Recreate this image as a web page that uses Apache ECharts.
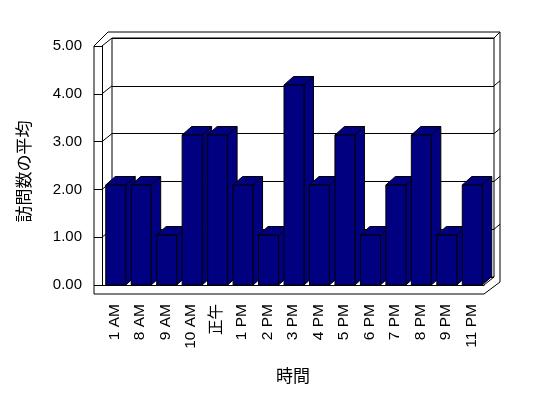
<!DOCTYPE html>
<html>
<head>
<meta charset="utf-8">
<script src="https://cdn.jsdelivr.net/npm/echarts@6/dist/echarts.min.js"></script>
<style>
  html, body { margin: 0; padding: 0; background: #fff; }
  #main { width: 548px; height: 398px; }
</style>
</head>
<body>
<div id="main"></div>
<script>
// 時間帯ごとの訪問数の平均
var hours = ['1 AM', '8 AM', '9 AM', '10 AM', '正午', '1 PM', '2 PM', '3 PM', '4 PM', '5 PM', '6 PM', '7 PM', '8 PM', '9 PM', '11 PM']
var visits = [2, 2, 1, 3, 3, 2, 1, 4, 2, 3, 1, 2, 3, 1, 2]
var yTicks = [0, 1, 2, 3, 4, 5]

var font = "'Liberation Sans', 'Noto Sans CJK JP', sans-serif"
var navy = '#000080'
// 奥行き (px)
var DX = 9.5
var DY = -8.5

var chart = echarts.init(document.getElementById('main'))

function drawFrame (params, api) {
  var cs = params.coordSys
  var x0 = cs.x
  var y0 = cs.y
  var R = cs.x + cs.width
  var y1 = cs.y + cs.height
  var line = { stroke: '#000', lineWidth: 1, fill: null }
  var children = [
    { type: 'polyline', shape: { points: [[x0 - 8, y1 + 9], [x0 - 8, y0], [x0 + 6, y0 - 14], [R + 16, y0 - 14], [R + 16, y1 - 3], [R, y1 + 9], [x0 - 8, y1 + 9]] }, style: line },
    { type: 'line', shape: { x1: x0, y1: y0, x2: x0 + 10, y2: y0 - 8 }, style: line },
    { type: 'line', shape: { x1: R + 10, y1: y0 - 8, x2: R + 16, y2: y0 - 14 }, style: line },
    { type: 'line', shape: { x1: R, y1: y1, x2: R + 10, y2: y1 - 8 }, style: line }
  ]
  // 左右の壁の目盛り線
  for (var i = 1; i < yTicks.length - 1; i++) {
    var yy = api.coord([0, yTicks[i]])[1]
    children.push({ type: 'line', shape: { x1: x0, y1: yy, x2: x0 + 10, y2: yy - 8 }, style: line })
    children.push({ type: 'line', shape: { x1: R + 10, y1: yy - 8, x2: R + 16, y2: yy - 13 }, style: line })
  }
  return { type: 'group', children: children }
}

function drawBar (params, api) {
  var idx = api.value(0)
  var v = api.value(1)
  var p0 = api.coord([idx, 0])
  var p1 = api.coord([idx, v])
  var w = api.size([1, 0])[0] * 0.785
  var x = p0[0] - w / 2 + 1
  var top = p1[1]
  var bottom = p0[1]
  var st = { fill: navy, stroke: '#000', lineWidth: 1 }
  return {
    type: 'group',
    z2: idx,
    children: [
      { type: 'polygon', shape: { points: [[x + w, top], [x + w + DX, top + DY], [x + w + DX, bottom + DY], [x + w, bottom]] }, style: st },
      { type: 'polygon', shape: { points: [[x, top], [x + DX, top + DY], [x + w + DX, top + DY], [x + w, top]] }, style: st },
      { type: 'rect', shape: { x: x, y: top, width: w, height: bottom - top }, style: st }
    ]
  }
}

var option = {
  animation: false,
  backgroundColor: '#fff',
  grid: [
    // 手前の面
    { left: 102, right: 64, top: 46, bottom: 113 },
    // 奥の壁
    { left: 112, right: 54, top: 38, bottom: 121, show: true, borderColor: '#000', borderWidth: 1, backgroundColor: 'transparent' }
  ],
  xAxis: [
    {
      gridIndex: 0,
      type: 'category',
      data: hours,
      name: '時間',
      nameLocation: 'middle',
      nameGap: 84,
      nameTextStyle: { fontFamily: font, fontSize: 17, color: '#000' },
      axisLine: { lineStyle: { color: '#000', width: 1 } },
      axisTick: { length: 9, lineStyle: { color: '#000' } },
      axisLabel: { rotate: 90, margin: 19, interval: 0, fontFamily: font, fontSize: 15.5, color: '#000' }
    },
    { gridIndex: 1, type: 'value', show: false }
  ],
  yAxis: [
    {
      gridIndex: 0,
      type: 'value',
      min: 0,
      max: 5,
      interval: 1,
      name: '訪問数の平均',
      nameLocation: 'middle',
      nameGap: 68,
      nameTextStyle: { fontFamily: font, fontSize: 17, color: '#000', padding: [0, 0, 0, -12] },
      axisLine: { show: true, lineStyle: { color: '#000', width: 1 } },
      axisTick: { show: true, length: 8, lineStyle: { color: '#000' } },
      splitLine: { show: false },
      axisLabel: {
        margin: 20,
        fontFamily: font,
        fontSize: 15,
        color: '#000',
        formatter: function (v) { return v.toFixed(2) }
      }
    },
    // 棒用 (遠近で手前の目盛りより少し大きい)
    { gridIndex: 0, type: 'value', min: 0, max: 4.78, show: false },
    {
      gridIndex: 1,
      type: 'value',
      min: 0,
      max: 5,
      interval: 1,
      axisLine: { show: false },
      axisTick: { show: false },
      axisLabel: { show: false },
      splitLine: { show: true, lineStyle: { color: '#000', width: 1 } }
    }
  ],
  series: [
    {
      name: 'frame',
      type: 'custom',
      xAxisIndex: 0,
      yAxisIndex: 0,
      z: 1,
      silent: true,
      data: [[0, 0]],
      renderItem: drawFrame
    },
    {
      name: '訪問数の平均',
      type: 'custom',
      xAxisIndex: 0,
      yAxisIndex: 1,
      z: 5,
      data: visits.map(function (v, i) { return [i, v] }),
      renderItem: drawBar
    }
  ]
}
chart.setOption(option)
</script>
</body>
</html>
